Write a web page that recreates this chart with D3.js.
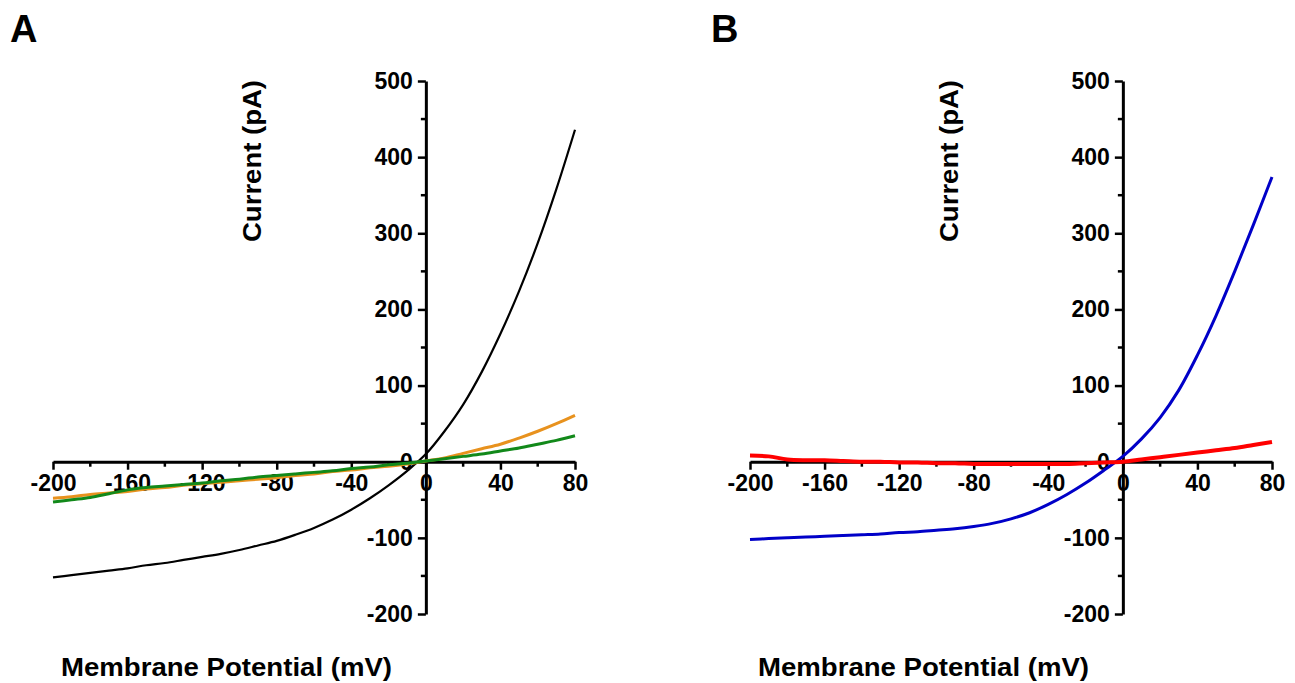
<!DOCTYPE html>
<html lang="en">
<head>
<meta charset="utf-8">
<title>I-V curves</title>
<script src="https://d3js.org/d3.v7.min.js"></script>
<style>
  body { margin: 0; background: #fff; }
  #chart { width: 1295px; height: 683px; }
  svg text { font-family: "Liberation Sans", Arial, sans-serif; font-weight: bold; fill: #000; }
  .axis path, .axis line { stroke: #000; }
</style>
</head>
<body>
<div id="chart"></div>
<script>

// membrane potential (mV), shared by all traces
const volts = [-200,-190,-180,-170,-160,-150,-140,-130,-120,-110,-100,-90,-80,-70,-60,-50,-40,-30,-20,-10,0,10,20,30,40,50,60,70,80]

// panel A currents (pA)
const blackA  = [-152,-149,-146,-143,-140,-136,-133,-129,-125,-121,-116,-110,-104,-96,-87,-76,-63,-48,-31,-12,10,40,75,118,168,224,287,358,436]
const orangeA = [-48,-46,-43,-41,-39,-36,-34,-31,-29,-27,-25,-23,-21,-18,-16,-13,-11,-8,-6,-3,1,5,11,17,23,31,40,50,61]
const greenA  = [-53,-50,-47,-42,-37,-34,-32,-30,-28,-25,-23,-20,-18,-16,-14,-12,-9,-7,-4,-2,1,4,7,10,14,18,23,28,34]

// panel B currents (pA)
const blueB = [-102,-101,-100,-99,-98,-97,-96,-95,-93,-92,-90,-88,-85,-81,-75,-67,-56,-43,-28,-11,7,30,58,94,140,192,250,311,374]
const redB  = [8,7,3,2,2,1,0,0,-1,-1,-2,-2,-3,-3,-3,-3,-3,-3,-2,-1,0,3,6,9,12,15,18,22,26]

// ticks
const xMajor = [-200,-160,-120,-80,-40,0,40,80]
const xMinor = [-180,-140,-100,-60,-20,20,60]
const yMajor = [-200,-100,0,100,200,300,400,500]
const yMinor = [-150,-50,50,150,250,350,450]

const svg = d3.select('#chart').append('svg')
    .attr('width', 1295)
    .attr('height', 683)

const drawPanel = (opts) => {
    const x = d3.scaleLinear().domain([-200, 80]).range([opts.left, opts.left + 522])
    const y = d3.scaleLinear().domain([-200, 500]).range([614, 81])

    const g = svg.append('g')

    // x axis, through y = 0
    const xAxis = g.append('g')
        .attr('class', 'axis')
        .attr('transform', 'translate(0,' + y(0) + ')')
        .call(d3.axisBottom(x).tickValues(xMajor).tickSize(8).tickSizeOuter(0).tickPadding(5).tickFormat(d => String(d)))
    xAxis.select('.domain').attr('stroke-width', 3)
    xAxis.selectAll('.tick line').attr('stroke-width', 2.5)
    xAxis.selectAll('text').style('font-size', '23px').attr('font-family', null).attr('fill', '#000')
    xAxis.selectAll('.minor').data(xMinor).enter().append('line')
        .attr('class', 'minor')
        .attr('x1', d => x(d)).attr('x2', d => x(d))
        .attr('y1', 0).attr('y2', 5)
        .attr('stroke', '#000').attr('stroke-width', 2.5)

    // y axis, through x = 0
    const yAxis = g.append('g')
        .attr('class', 'axis')
        .attr('transform', 'translate(' + x(0) + ',0)')
        .call(d3.axisLeft(y).tickValues(yMajor).tickSize(8).tickSizeOuter(0).tickPadding(5).tickFormat(d => String(d)))
    yAxis.select('.domain').attr('stroke-width', 3)
    yAxis.selectAll('.tick line').attr('stroke-width', 2.5)
    yAxis.selectAll('text').style('font-size', '23px').attr('font-family', null).attr('fill', '#000')
    yAxis.selectAll('.minor').data(yMinor).enter().append('line')
        .attr('class', 'minor')
        .attr('x1', 0).attr('x2', -5)
        .attr('y1', d => y(d)).attr('y2', d => y(d))
        .attr('stroke', '#000').attr('stroke-width', 2.5)

    // traces
    const line = d3.line()
        .x(d => x(d[0]))
        .y(d => y(d[1]))
        .curve(d3.curveCatmullRom.alpha(0.5))

    opts.series.forEach(s => {
        g.append('path')
            .datum(volts.map((v, i) => [v, s.values[i]]))
            .attr('fill', 'none')
            .attr('stroke', s.color)
            .attr('stroke-width', s.width)
            .attr('stroke-linejoin', 'round')
            .attr('d', line)
    })

    // axis titles and panel letter
    g.append('text')
        .attr('transform', 'translate(' + (x(0) - 165) + ',161) rotate(-90)')
        .attr('text-anchor', 'middle')
        .attr('textLength', 162)
        .attr('lengthAdjust', 'spacingAndGlyphs')
        .style('font-size', '25px')
        .text('Current (pA)')

    g.append('text')
        .attr('x', opts.left + 8)
        .attr('y', 676)
        .attr('textLength', 331)
        .attr('lengthAdjust', 'spacingAndGlyphs')
        .style('font-size', '25px')
        .text('Membrane Potential (mV)')

    g.append('text')
        .attr('x', opts.letterX)
        .attr('y', 42)
        .style('font-size', '38px')
        .text(opts.letter)
}

drawPanel({
    left: 53, letter: 'A', letterX: 10,
    series: [
        {values: blackA, color: '#000000', width: 2.2},
        {values: orangeA, color: '#E8921E', width: 3},
        {values: greenA, color: '#12891A', width: 3}
    ]
})

drawPanel({
    left: 750, letter: 'B', letterX: 711,
    series: [
        {values: blueB, color: '#0000C8', width: 3},
        {values: redB, color: '#FF0000', width: 4}
    ]
})

</script>
</body>
</html>
